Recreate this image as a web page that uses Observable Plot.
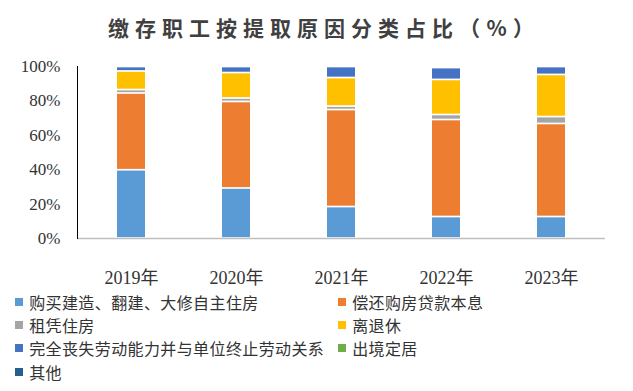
<!DOCTYPE html>
<html>
<head>
<meta charset="utf-8">
<script src="https://cdn.jsdelivr.net/npm/d3@7"></script>
<script src="https://cdn.jsdelivr.net/npm/@observablehq/plot@0.6"></script>
<style>
  html, body { margin: 0; padding: 0; background: #fff; }
  #wrap { position: relative; width: 633px; height: 391px; overflow: hidden; }
  #title { position: absolute; left: 105px; top: 13px;
    font-family: "Noto Sans CJK SC", sans-serif; font-weight: bold; font-size: 21px;
    color: #404040; line-height: 28px; white-space: nowrap; }
  #chart { position: absolute; left: 0; top: 50px; }
  .leg { position: absolute; font-family: "Noto Sans CJK SC", sans-serif; font-size: 16px;
    color: #333; line-height: 20px; white-space: nowrap; }
  .leg span.sw { position: absolute; width: 8px; height: 8px; left: -14px; top: 6px; }
  span.ch { display: inline-block; text-align: center; }
</style>
</head>
<body>
<div id="wrap">
  <div id="title"></div>
  <div id="chart"></div>
  <div id="legend"></div>
</div>
<script>
const titleText = "缴存职工按提取原因分类占比（%）";
const years = ["2019年", "2020年", "2021年", "2022年", "2023年"];
const seriesNames = [
  "购买建造、翻建、大修自主住房",
  "偿还购房贷款本息",
  "租凭住房",
  "离退休",
  "完全丧失劳动能力并与单位终止劳动关系",
  "出境定居",
  "其他"
];
const colors = ["#5B9BD5", "#ED7D31", "#A5A5A5", "#FFC000", "#4472C4", "#70AD47", "#255E91"];
const yTicks = [0, 20, 40, 60, 80, 100];

const buyBuild   = [39.7, 29.1, 18.3, 12.5, 12.5];
const repayLoan  = [44.6, 50.3, 56.4, 56.4, 54.1];
const rent       = [2.0, 2.0, 2.0, 2.9, 4.0];
const retire     = [10.8, 14.8, 16.6, 20.4, 24.5];
const disability = [2.6, 3.5, 6.4, 6.9, 4.6];
const emigrate   = [0, 0, 0, 0, 0];
const other      = [0, 0, 0, 0, 0];

const seriesValues = [buyBuild, repayLoan, rent, retire, disability, emigrate, other];

const data = [];
seriesValues.forEach((vals, si) => {
  vals.forEach((v, yi) => {
    data.push({year: years[yi], series: seriesNames[si], value: v});
  });
});

// Lay text out on a fixed character pitch (full-width CJK grid)
function fillText(el, text, pitch) {
  for (const ch of text) {
    const s = document.createElement("span");
    s.className = "ch";
    s.style.width = pitch + "px";
    s.textContent = ch;
    el.appendChild(s);
  }
}
fillText(document.getElementById("title"), titleText, 27);

const serif = "'Liberation Serif', 'Noto Sans CJK SC', serif";

const chart = Plot.plot({
  width: 633,
  height: 240,
  marginLeft: 77,
  marginRight: 28,
  marginTop: 16,
  marginBottom: 52,
  style: {fontFamily: serif, fontSize: "17px", color: "#333", background: "transparent"},
  x: {domain: years, paddingInner: 0.73, paddingOuter: 0.365, label: null},
  y: {domain: [0, 100], label: null},
  color: {domain: seriesNames, range: colors},
  marks: [
    Plot.barY(data.filter(d => d.value > 0), {
      x: "year", y: "value", fill: "series", z: "series", order: seriesNames,
      insetTop: 0.85, insetBottom: 0.85
    }),
    Plot.ruleY([0], {stroke: "#BFBFBF", strokeWidth: 1.5}),
    Plot.frame({anchor: "left", stroke: "#000", strokeWidth: 1}),
    Plot.axisY({ticks: yTicks, tickSize: 0, tickPadding: 17, tickFormat: d => d + "%",
      fontSize: 17, fill: "#333"}),
    Plot.axisX({tickSize: 0, tickPadding: 33, fontSize: 18, fill: "#333"})
  ]
});
document.getElementById("chart").appendChild(chart);

// Legend
const legend = document.getElementById("legend");
const cols = [29, 352];
const rows = [302, 325, 348, 372];
seriesNames.forEach((name, i) => {
  const col = i % 2, row = Math.floor(i / 2);
  const div = document.createElement("div");
  div.className = "leg";
  div.style.left = cols[col] + "px";
  div.style.top = (rows[row] - 10) + "px";
  const sw = document.createElement("span");
  sw.className = "sw";
  sw.style.background = colors[i];
  div.appendChild(sw);
  fillText(div, name, 16.4);
  legend.appendChild(div);
});
</script>
</body>
</html>
